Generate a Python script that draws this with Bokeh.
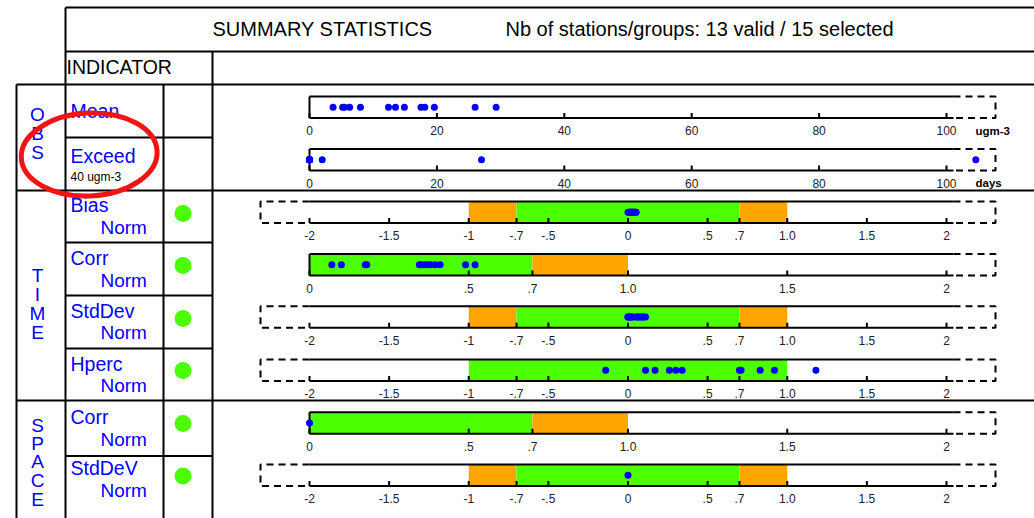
from bokeh.plotting import figure
from bokeh.models import Range1d
from bokeh.embed import file_html
from bokeh.resources import INLINE
from bokeh.core.properties import value

# ---------------- data ----------------
title_left = "SUMMARY STATISTICS"
title_right = "Nb of stations/groups: 13 valid / 15 selected"
header = "INDICATOR"
group_names = ["OBS", "TIME", "SPACE"]
indicator_names = ["Mean", "Exceed", "Bias", "Corr", "StdDev", "Hperc", "Corr", "StdDeV"]
indicator_subs = ["", "", "Norm", "Norm", "Norm", "Norm", "Norm", "Norm"]
exceed_threshold = "40 ugm-3"
unit_labels = ["ugm-3", "days"]

obs_ticks = [0, 20, 40, 60, 80, 100]
obs_tick_labels = ["0", "20", "40", "60", "80", "100"]
norm_ticks = [-2, -1.5, -1, -0.7, -0.5, 0, 0.5, 0.7, 1.0, 1.5, 2]
norm_tick_labels = ["-2", "-1.5", "-1", "-.7", "-.5", "0", ".5", ".7", "1.0", "1.5", "2"]
corr_ticks = [0, 0.5, 0.7, 1.0, 1.5, 2]
corr_tick_labels = ["0", ".5", ".7", "1.0", "1.5", "2"]

mean_values = [3.7, 5.2, 5.5, 6.3, 8.0, 12.4, 13.5, 14.9, 17.5, 18.1, 19.6, 26.0, 29.3]
exceed_values = [0, 0, 0, 0, 0, 0, 0, 0, 0, 0, 2.0, 27.0, 104.6]
bias_values = [0.00, 0.01, 0.01, 0.02, 0.02, 0.03, 0.03, 0.04, 0.04, 0.05, 0.05, 0.02, 0.03]
time_corr_values = [0.07, 0.10, 0.175, 0.18, 0.345, 0.35, 0.36, 0.37, 0.38, 0.395, 0.41, 0.49, 0.52]
time_std_values = [0.00, 0.01, 0.02, 0.03, 0.05, 0.06, 0.07, 0.08, 0.09, 0.10, 0.11, 0.00, 0.02]
hperc_values = [-0.14, 0.11, 0.17, 0.26, 0.30, 0.34, 0.70, 0.71, 0.83, 0.92, 1.18]
space_corr_values = [0.0]
space_std_values = [0.0]

norm_zone_left = [-1.0, -0.7, 0.7]
norm_zone_right = [-0.7, 0.7, 1.0]
norm_zone_colors = ["#ffa500", "#4cff00", "#ffa500"]
hperc_zone_left = [-1.0]
hperc_zone_right = [1.0]
hperc_zone_colors = ["#4cff00"]
corr_zone_left = [0.0, 0.7]
corr_zone_right = [0.7, 1.0]
corr_zone_colors = ["#4cff00", "#ffa500"]

# ---------------- figure ----------------
W, H = 1034, 518
OFF = 0
FONT = value("Liberation Sans")
BLUE = "#0000ff"

p = figure(width=W, height=H, output_backend="svg", toolbar_location=None,
           x_range=Range1d(OFF, OFF + W), y_range=Range1d(OFF + H, OFF),
           x_axis_location=None, y_axis_location=None, min_border=0)
p.grid.visible = False
p.outline_line_color = None

AX0, AX1 = 309, 946


def make_range(vmin, vmax):
    scale = (AX1 - AX0) / (vmax - vmin)
    start = vmin - (AX0 - OFF) / scale
    return Range1d(start, start + W / scale)


p.extra_x_ranges = {"obs": make_range(0, 100), "norm": make_range(-2, 2), "corr": make_range(0, 2)}

# ---------------- table grid ----------------
RIGHT = OFF + W
BOTTOM = OFF + H
hx0 = [65, 65, 16, 65, 16, 65, 65, 65, 16, 65]
hx1 = [RIGHT, RIGHT, RIGHT, 212, RIGHT, 212, 212, 212, RIGHT, 212]
hy = [7, 51, 84, 137, 190, 242, 295, 348, 400, 455.5]
p.segment(x0=hx0, y0=hy, x1=hx1, y1=hy, line_color="black", line_width=2)
vx = [65, 212, 16, 163]
vy0 = [7, 51, 84, 84]
p.segment(x0=vx, y0=vy0, x1=vx, y1=[BOTTOM] * 4, line_color="black", line_width=2)

# header texts
p.text(x=[212], y=[28], text=[title_left], text_font=FONT, text_font_size="20px",
       text_baseline="middle", text_align="left", text_color="black")
p.text(x=[505], y=[28], text=[title_right], text_font=FONT, text_font_size="20px",
       text_baseline="middle", text_align="left", text_color="black")
p.text(x=[66], y=[66], text=[header], text_font=FONT, text_font_size="19.5px",
       text_baseline="middle", text_align="left", text_color="black")

# vertical group letters
group_letter_y = [[114, 133, 152], [275, 294, 313, 332], [425, 443, 461, 480, 499]]
for name, ys in zip(group_names, group_letter_y):
    p.text(x=[37] * len(name), y=ys, text=list(name), text_font=FONT, text_font_size="19px",
           text_baseline="middle", text_align="center", text_color=BLUE)

# indicator labels
name_y = [110, 155, 204, 257.5, 310, 363, 416.5, 467.5]
sub_y = [0, 0, 226.5, 279.5, 332, 385, 438.5, 490]
p.text(x=[70] * len(indicator_names), y=name_y, text=indicator_names, text_font=FONT,
       text_font_size="19.5px", text_baseline="middle", text_align="left", text_color=BLUE)
sub_idx = [i for i, s in enumerate(indicator_subs) if s]
p.text(x=[100] * len(sub_idx), y=[sub_y[i] for i in sub_idx], text=[indicator_subs[i] for i in sub_idx],
       text_font=FONT, text_font_size="19px", text_baseline="middle", text_align="left", text_color=BLUE)
p.text(x=[70], y=[176.5], text=[exceed_threshold], text_font=FONT, text_font_size="12px",
       text_baseline="middle", text_align="left", text_color="black")

# green status circles
circle_y = [213, 265, 318, 370, 423, 475.5]
p.scatter(x=[182.5] * len(circle_y), y=circle_y, size=17, fill_color="#4cff00", line_color=None)

# ---------------- strips ----------------
SH = 21.5
strips = [
    dict(kind="obs", top=96, vals=mean_values, zones=None, ticks=obs_ticks, labels=obs_tick_labels,
         left="solid", unit=unit_labels[0]),
    dict(kind="obs", top=148.5, vals=exceed_values, zones=None, ticks=obs_ticks, labels=obs_tick_labels,
         left="solid", unit=unit_labels[1]),
    dict(kind="norm", top=201, vals=bias_values, zones=(norm_zone_left, norm_zone_right, norm_zone_colors),
         ticks=norm_ticks, labels=norm_tick_labels, left="dash", unit=None),
    dict(kind="corr", top=253.5, vals=time_corr_values, zones=(corr_zone_left, corr_zone_right, corr_zone_colors),
         ticks=corr_ticks, labels=corr_tick_labels, left="solid", unit=None),
    dict(kind="norm", top=305.7, vals=time_std_values, zones=(norm_zone_left, norm_zone_right, norm_zone_colors),
         ticks=norm_ticks, labels=norm_tick_labels, left="dash", unit=None),
    dict(kind="norm", top=359, vals=hperc_values, zones=(hperc_zone_left, hperc_zone_right, hperc_zone_colors),
         ticks=norm_ticks, labels=norm_tick_labels, left="dash", unit=None),
    dict(kind="corr", top=411.7, vals=space_corr_values, zones=(corr_zone_left, corr_zone_right, corr_zone_colors),
         ticks=corr_ticks, labels=corr_tick_labels, left="solid", unit=None),
    dict(kind="norm", top=464, vals=space_std_values, zones=(norm_zone_left, norm_zone_right, norm_zone_colors),
         ticks=norm_ticks, labels=norm_tick_labels, left="dash", unit=None),
]

SOLID_END = 953
DASH_END = 995
DASH_START = 260
for s in strips:
    top = s["top"]
    bot = top + SH
    mid = (top + bot) / 2
    k = s["kind"]
    if s["zones"]:
        zl, zr, zc = s["zones"]
        p.quad(left=zl, right=zr, top=[top] * len(zl), bottom=[bot] * len(zl), fill_color=zc,
               line_color=None, x_range_name=k)
    p.segment(x0=[AX0, AX0], y0=[top, bot], x1=[SOLID_END, SOLID_END], y1=[top, bot],
              line_color="black", line_width=2)
    p.line(x=[SOLID_END, DASH_END, DASH_END, SOLID_END], y=[top, top, bot, bot],
           line_color="black", line_width=2, line_dash="7 5")
    if s["left"] == "solid":
        p.segment(x0=[AX0], y0=[top], x1=[AX0], y1=[bot], line_color="black", line_width=2)
    else:
        p.line(x=[AX0, DASH_START, DASH_START, AX0], y=[top, top, bot, bot],
               line_color="black", line_width=2, line_dash="7 5")
    t = s["ticks"]
    p.segment(x0=t, y0=[bot] * len(t), x1=t, y1=[bot - 5] * len(t), line_color="black",
              line_width=2, x_range_name=k)
    p.text(x=t, y=[bot + 12.5] * len(t), text=s["labels"], text_font=FONT, text_font_size="12px",
           text_baseline="middle", text_align="center", text_color="#222222", x_range_name=k)
    v = s["vals"]
    p.scatter(x=v, y=[mid] * len(v), size=7, fill_color=BLUE, line_color=None, x_range_name=k)
    if s["unit"]:
        p.text(x=[975], y=[bot + 12.5], text=[s["unit"]], text_font=FONT, text_font_size="11.5px",
               text_font_style="bold", text_baseline="middle", text_align="left", text_color="black")

# red highlight ellipse
p.ellipse(x=[88.7], y=[154], width=[136], height=[83], angle=0.05, fill_color=None,
          line_color="#f01414", line_width=5)

open("out.html", "w").write(file_html(p, INLINE))
